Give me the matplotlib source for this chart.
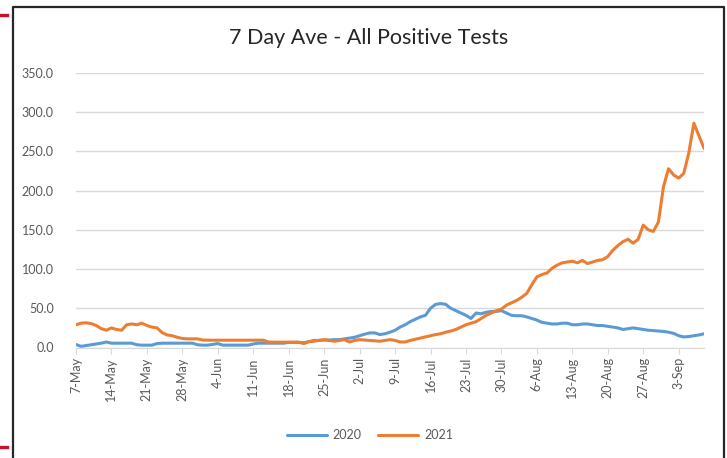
import matplotlib.pyplot as plt
from matplotlib.lines import Line2D
import numpy as np

# 7-May .. 8-Sep, one value per day (7 day average)
tests_2020 = [3.8, 1.5, 2.5, 3.5, 4.5, 5.5, 7, 5.5, 5.5, 5.5,
              5.5, 5.5, 3.5, 3, 3, 3, 5, 5.5, 5.5, 5.5,
              5.5, 5.5, 5.5, 5.5, 3.5, 3, 3, 4, 5, 3,
              3, 3, 3, 3, 3, 4.5, 5.5, 5.5, 5.5, 5.5,
              5.5, 5.5, 6.5, 6.5, 6.5, 6, 7.5, 9, 9, 9.5,
              9.5, 10, 10, 11, 12, 13, 15, 17, 18.6, 18.6,
              16.5, 17.5, 19.5, 22, 26, 29, 33, 36, 39, 41,
              50, 55, 56, 55, 50, 47, 44, 41, 37, 44,
              43, 45, 46, 46, 47, 44, 41, 40.5, 40.5, 39,
              37, 35, 32, 31, 30, 30, 31, 31, 29, 29,
              30, 30, 29, 28, 28, 27, 26, 25, 23, 24,
              25, 24, 23, 22, 21.5, 21, 20.5, 19.5, 18, 15,
              13.5, 14, 15, 16, 17.5]

tests_2021 = [29, 31, 31.5, 30.5, 28, 24, 22, 25, 23, 22,
              29, 30, 29, 31, 28, 26, 25, 19, 16, 15,
              13, 11.5, 11, 11, 11, 9.5, 9.3, 9.3, 9.3, 9.3,
              9.3, 9.3, 9.3, 9.3, 9.3, 9.3, 9.3, 9.3, 7, 6.8,
              6.8, 6.8, 6.8, 6.8, 6.8, 5, 7.5, 8, 9, 10,
              9, 8, 9, 10, 7, 9, 10, 9.5, 9, 8.5,
              8, 9, 10, 9, 7, 7, 9, 10.5, 12, 13.5,
              15, 16.5, 17.5, 19.5, 21, 23, 26, 29, 31, 33,
              37, 41, 44, 47, 49, 54, 57, 60, 64, 69,
              80, 90, 93, 95, 101, 105, 108, 109, 110, 108,
              111, 107, 109, 111, 112, 116, 124, 130, 135, 138,
              133, 138, 156, 150, 148, 160, 205, 228, 220, 216,
              222, 248, 286, 270, 254]

tick_labels = ['7-May', '14-May', '21-May', '28-May', '4-Jun', '11-Jun',
               '18-Jun', '25-Jun', '2-Jul', '9-Jul', '16-Jul', '23-Jul',
               '30-Jul', '6-Aug', '13-Aug', '20-Aug', '27-Aug', '3-Sep']

W, H = 727, 458
fig = plt.figure(figsize=(W / 100, H / 100), dpi=100)
plt.rcParams['font.family'] = ['Lato', 'DejaVu Sans']

ax = fig.add_axes([76 / W, (H - 347.5) / H, (704 - 76) / W, (347.5 - 73) / H])

days = np.arange(len(tests_2020))
ax.plot(days, tests_2020, color='#5B9BD5', lw=2.2, label='2020', solid_capstyle='round')
ax.plot(days, tests_2021, color='#ED7D31', lw=2.2, label='2021', solid_capstyle='round')

ax.set_xlim(0, len(days) - 1)
ax.set_ylim(0, 350)
ax.set_yticks(np.arange(0, 351, 50))
ax.set_yticklabels(['%.1f' % v for v in np.arange(0, 351, 50)])
ax.set_xticks(np.arange(0, len(days), 7))
ax.set_xticklabels(tick_labels, rotation=90)

ax.grid(axis='y', color='#D9D9D9', lw=1)
ax.set_axisbelow(True)
for s in ['top', 'right', 'left']:
    ax.spines[s].set_visible(False)
ax.spines['bottom'].set_color('#D9D9D9')
ax.tick_params(axis='y', length=0, pad=16, labelsize=9, labelcolor='#595959')
ax.tick_params(axis='x', length=4, color='#D9D9D9', pad=3, labelsize=9, labelcolor='#595959')

fig.text(369 / W, 1 - 38 / H, '7 Day Ave - All Positive Tests', ha='center', va='center',
         fontsize=15.5, color='#262626')

fig.legend(loc='center', bbox_to_anchor=(370 / W, 1 - 435 / H), ncol=2, frameon=False,
           fontsize=9, labelcolor='#595959', handlelength=3.2, columnspacing=1.3,
           handletextpad=0.5)

# outer frame of the screenshot and the red marks at the left edge
def px_line(xs, ys, **kw):
    fig.add_artist(Line2D([x / W for x in xs], [1 - y / H for y in ys],
                          transform=fig.transFigure, **kw))

px_line([13, 13, 723.5, 723.5], [H + 2, 7, 7, H + 2], color='#262626', lw=1.6)
px_line([0, 7], [15, 15], color='#C8102E', lw=2.4)
px_line([0, 7], [446.5, 446.5], color='#C8102E', lw=2.4)

fig.savefig('out.png', dpi=100)
